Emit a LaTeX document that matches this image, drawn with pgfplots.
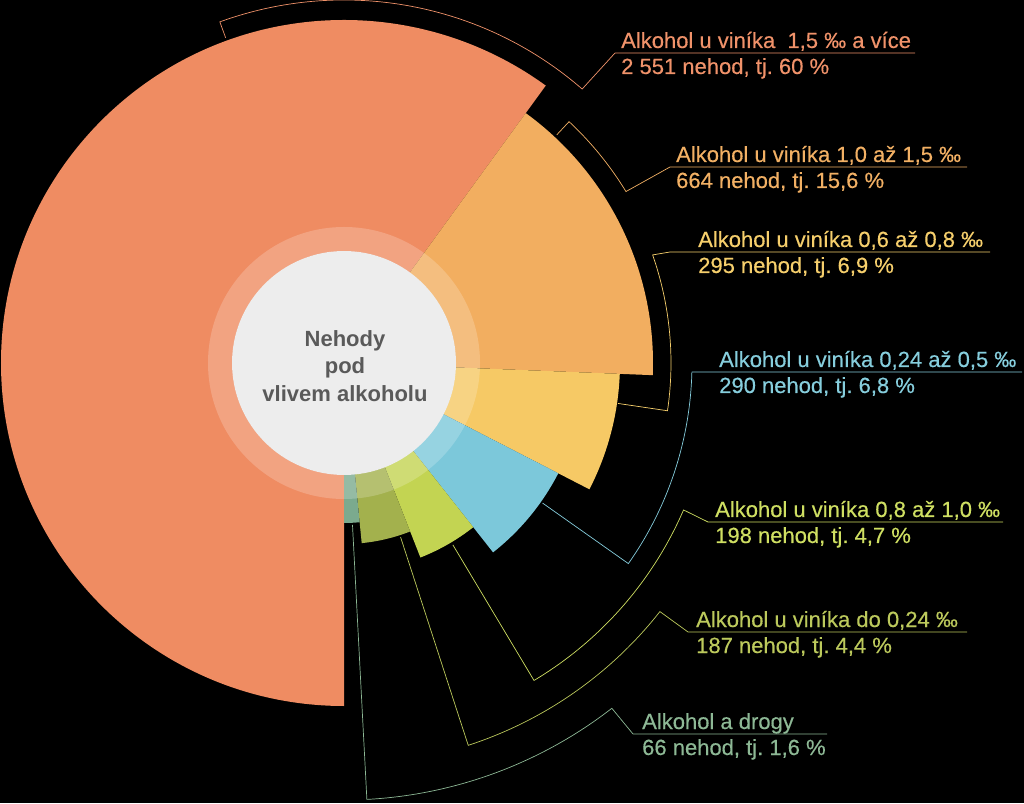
\documentclass[border=0pt]{standalone}
\usepackage{pgfplots}
\pgfplotsset{compat=1.18}
\usetikzlibrary{calc}
\usepackage{fontspec}
\setmainfont{Liberation Sans}
\newfontfamily\labelfont[FakeBold=0.35]{Liberation Sans}
\definecolor{cA}{HTML}{EF8C62}
\definecolor{cB}{HTML}{F2AE60}
\definecolor{cC}{HTML}{F6C965}
\definecolor{cD}{HTML}{7CC8DA}
\definecolor{cE}{HTML}{C3D452}
\definecolor{cF}{HTML}{A3B14D}
\definecolor{cG}{HTML}{7BAA8E}
\definecolor{tA}{HTML}{F0926A}
\definecolor{tB}{HTML}{F2B064}
\definecolor{tC}{HTML}{F6CF6C}
\definecolor{tD}{HTML}{86CEDD}
\definecolor{tE}{HTML}{CFDF62}
\definecolor{tF}{HTML}{BCC95C}
\definecolor{tG}{HTML}{8DB895}
\definecolor{centre}{HTML}{EDEDED}
\definecolor{centretext}{HTML}{5A5A5A}
\begin{document}
\frenchspacing
\begin{tikzpicture}
\begin{axis}[x=1pt,y=1pt,xmin=0,xmax=1024,ymin=0,ymax=803,hide axis,clip=true]
\pgfplotsextra{
  \fill[black] (axis cs:0,0) rectangle (axis cs:1024,803);
  \path (axis cs:344,440) coordinate (c);
  % sectors: count / radius (px) / colour ; total 4251, clockwise from 270 deg
  \xdef\ang{270}
  \foreach \cnt/\rad/\col in {2551/343/cA, 664/309/cB, 295/276/cC, 290/241/cD, 198/209/cE, 187/181/cF, 66/160/cG}{
    \pgfmathsetmacro\aend{\ang-\cnt/4251*360}
    \fill[\col] (c) -- ++(\ang:\rad pt) arc[start angle=\ang, end angle=\aend, radius=\rad pt] -- cycle;
    \xdef\ang{\aend}
  }
  \fill[white, opacity=0.2, even odd rule] (c) circle[radius=136pt] (c) circle[radius=112pt];
  \fill[centre] (c) circle[radius=112pt];
  % leader brackets
  \foreach \ta/\ri/\ro/\ea/\ux/\uy/\uxe/\col in {
    110/346/363/49/615/750/915/tA,
    47/312/330/31.3/670/636/967/tB,
    -8.4/277/327/19.3/670/551/990/tC,
    -35.2/243/348/-1.5/692/431/1022/tD,
    -59.1/212/370/-23.4/708/281/1003/tE,
    -72/183/402/-38.2/688/171/967/tF,
    -87/162/437/-52.2/633/69/827/tG}{
    \draw[\col, line width=0.7pt] ($(c)+(\ta:\ri pt)$) -- ($(c)+(\ta:\ro pt)$)
      arc[start angle=\ta, end angle=\ea, radius=\ro pt] -- (axis cs:\ux,\uy) -- (axis cs:\uxe,\uy);
  }
  % labels
  \foreach \x/\uy/\col/\la/\lb in {
    621/750/tA/{Alkohol u viníka \ 1,5 ‰ a více}/{2 551 nehod, tj. 60 \%},
    676/636/tB/{Alkohol u viníka 1,0 až 1,5 ‰}/{664 nehod, tj. 15,6 \%},
    698/551/tC/{Alkohol u viníka 0,6 až 0,8 ‰}/{295 nehod, tj. 6,9 \%},
    719/431/tD/{Alkohol u viníka 0,24 až 0,5 ‰}/{290 nehod, tj. 6,8 \%},
    715/281/tE/{Alkohol u viníka 0,8 až 1,0 ‰}/{198 nehod, tj. 4,7 \%},
    696/171/tF/{Alkohol u viníka do 0,24 ‰}/{187 nehod, tj. 4,4 \%},
    642/69/tG/{Alkohol a drogy}/{66 nehod, tj. 1,6 \%}}{
    \node[anchor=base west, inner sep=0pt, text=\col, font=\labelfont\fontsize{22}{26}\selectfont] at (axis cs:\x,\uy+5) {\la};
    \node[anchor=base west, inner sep=0pt, text=\col, font=\labelfont\fontsize{22}{26}\selectfont] at (axis cs:\x,\uy-21) {\lb};
  }
  \node[align=center, text=centretext, font=\fontsize{22}{27.5}\selectfont\bfseries] at (axis cs:345,437) {Nehody\\pod\\vlivem alkoholu};
}
\end{axis}
\end{tikzpicture}
\end{document}
